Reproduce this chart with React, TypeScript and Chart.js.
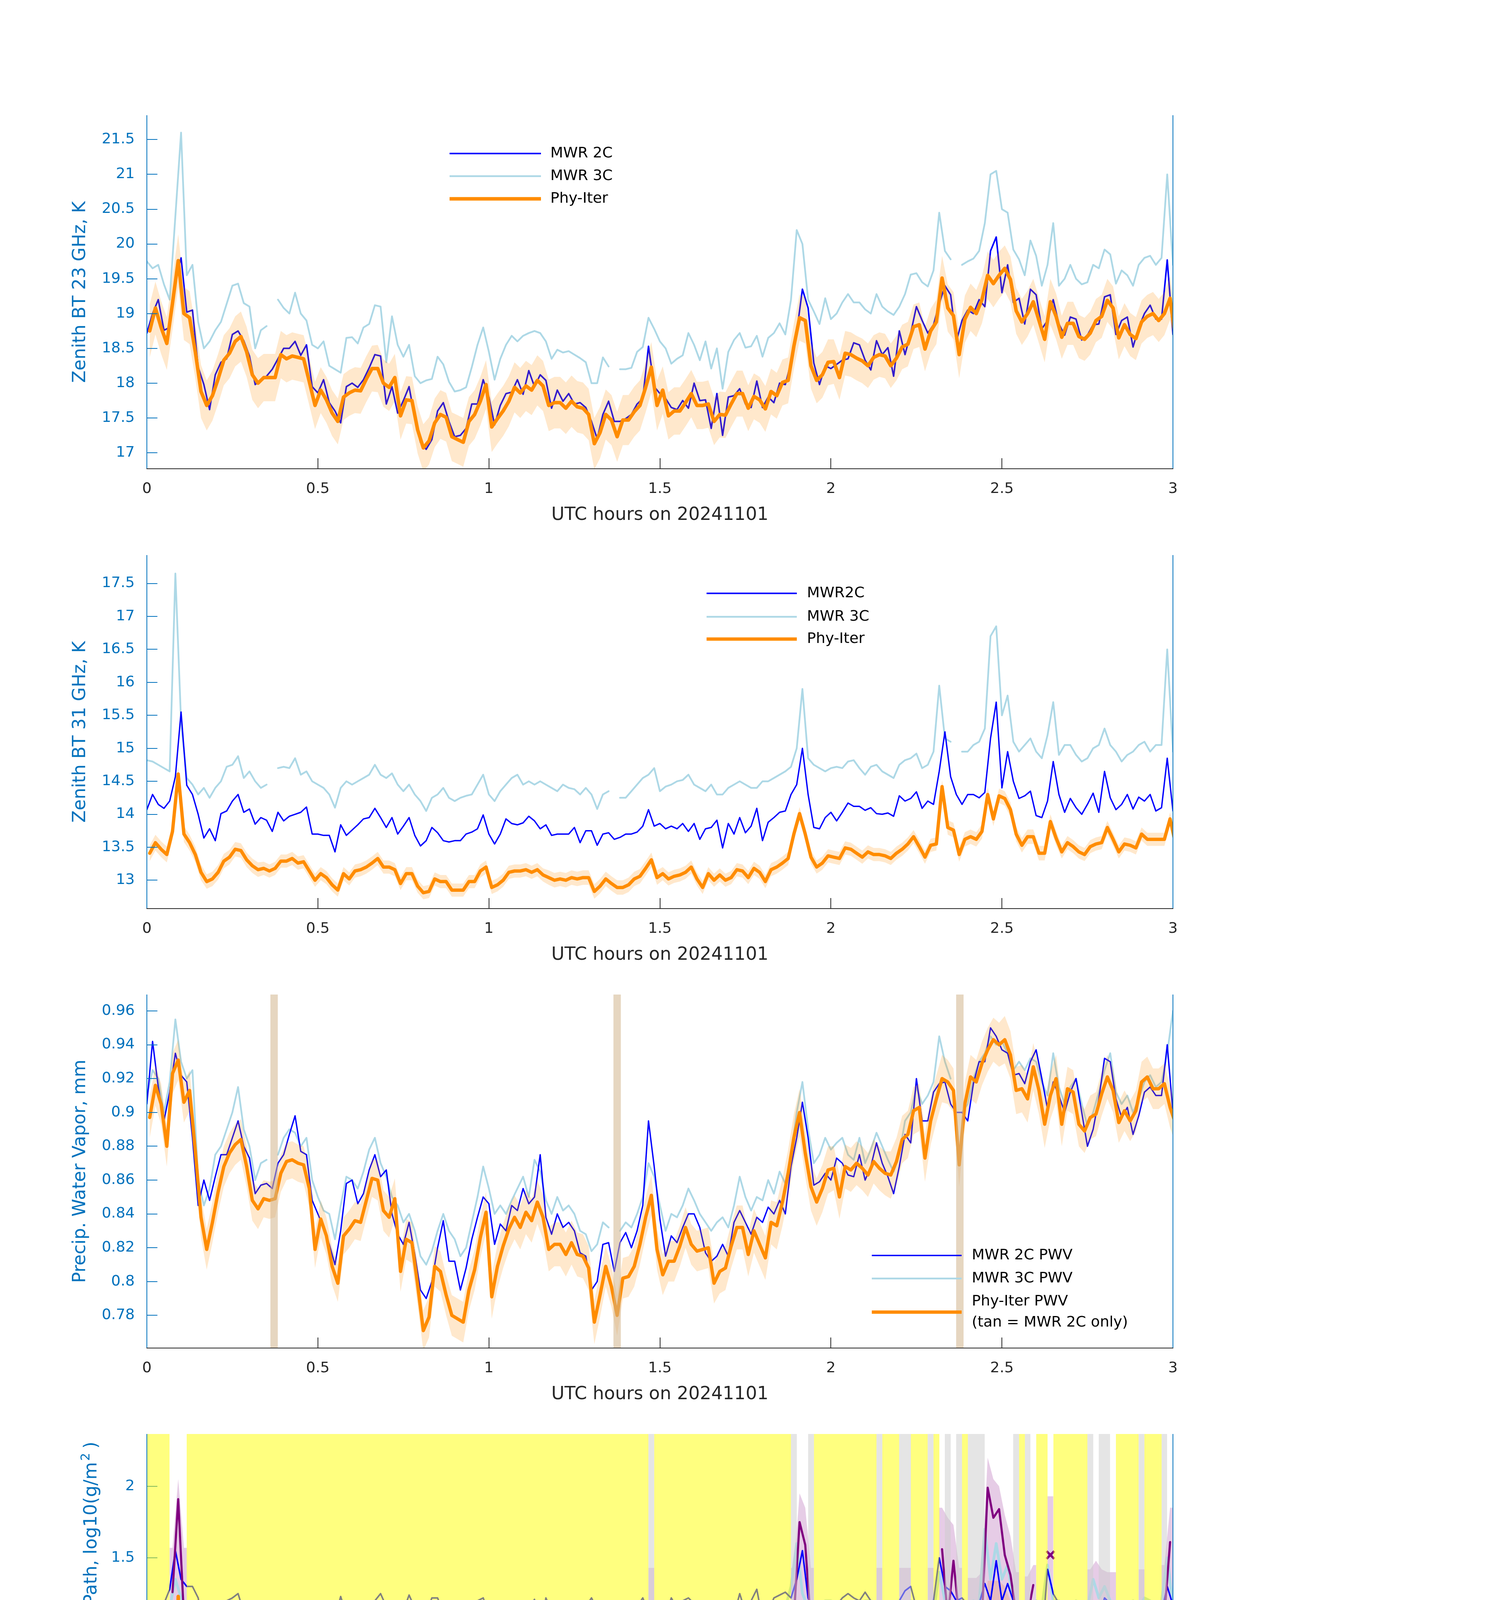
import { useEffect, useRef } from "react";
import { Chart, registerables } from "chart.js";

Chart.register(...registerables);

const AX_BLUE = "#0072bd";
const DARK = "#262626";
const ORANGE = "#ff8c00";
const BLUE = "#0000ff";
const LIGHT = "#add8e6";
const PURPLE = "#800080";
const BAND = "rgba(255,140,0,0.2)";
const ADI_BAND = "rgba(128,0,128,0.2)";
const FONT = '"DejaVu Sans", sans-serif';

const W = 3825;
const H = 1125;
const PAD = { left: 376, right: 822, top: 60, bottom: 160 };
const PANEL_TOPS = [295, 1421, 2546, 3671, 4796];

const xTicks = [0, 0.5, 1, 1.5, 2, 2.5, 3];

// ---- panel 1: zenith BT 23 GHz (one value per minute) ----
const bt23_2c = [
  18.72, 19.0, 19.2, 18.76, 18.8, 19.5, 19.8, 19.02, 19.05, 18.23,
  17.98, 17.62, 18.12, 18.3, 18.35, 18.7, 18.75, 18.61, 18.39, 17.98,
  18.05, 18.1, 18.2, 18.35, 18.5, 18.5, 18.6, 18.4, 18.55, 17.95,
  17.86, 18.05, 17.72, 17.6, 17.43, 17.95, 18.0, 17.94, 18.05, 18.22,
  18.41, 18.39, 17.7, 17.95, 17.57, 17.75, 17.95, 17.5, 17.15, 17.05,
  17.19, 17.6, 17.72, 17.45, 17.23, 17.25, 17.35, 17.7, 17.7, 18.05,
  17.8, 17.4, 17.68, 17.85, 17.87, 18.05, 17.84, 18.18, 17.95, 18.12,
  18.04, 17.64, 17.9, 17.74, 17.85, 17.7, 17.72, 17.65, 17.45, 17.2,
  17.55, 17.74, 17.45, 17.45, 17.49, 17.55, 17.7, 17.78, 18.53, 17.95,
  17.85, 17.78, 17.65, 17.62, 17.75, 17.64, 18.0, 17.75, 17.76, 17.35,
  17.85, 17.25, 17.8, 17.82, 17.92, 17.7, 17.65, 18.03, 17.65, 17.8,
  17.72, 18.0, 17.98, 18.3, 18.73, 19.35, 19.08, 18.29, 17.98, 18.25,
  18.21, 18.27, 18.33, 18.35, 18.58, 18.55, 18.33, 18.19, 18.61, 18.41,
  18.51, 18.1, 18.75, 18.41, 18.72, 19.1, 18.9, 18.72, 18.84, 19.14,
  19.4, 19.27, 18.6, 18.9, 19.05, 19.0, 19.2, 19.1, 19.9, 20.1,
  19.3, 19.7, 19.16, 19.22, 18.85, 19.35, 19.27, 18.78, 18.9, 19.2,
  18.85, 18.69, 18.95, 18.92, 18.62, 18.69, 18.84, 18.85, 19.24, 19.27,
  18.7, 18.9, 18.95, 18.52, 18.8, 19.0, 19.12, 18.92, 18.92, 19.77,
  18.7,
];
const bt23_3c = [
  19.75, 19.65, 19.7, 19.42, 19.2, 20.4, 21.6, 19.55, 19.7, 18.88,
  18.5, 18.6, 18.76, 18.88, 19.14, 19.4, 19.43, 19.15, 19.1, 18.5,
  18.76, 18.82, null, 19.2, 19.08, 19.0, 19.3, 19.0, 18.9, 18.55,
  18.5, 18.6, 18.25, 18.2, 18.15, 18.65, 18.66, 18.57, 18.8, 18.85,
  19.12, 19.1, 18.3, 18.96, 18.55, 18.38, 18.55, 18.1, 18.0, 18.04,
  18.06, 18.38, 18.27, 18.02, 17.88, 17.9, 17.94, 18.23, 18.55, 18.8,
  18.45, 18.05, 18.35, 18.55, 18.68, 18.6, 18.68, 18.72, 18.75, 18.72,
  18.6, 18.35, 18.48, 18.44, 18.46, 18.41, 18.36, 18.3, 18.0, 18.0,
  18.37, 18.24, null, 18.2, 18.2, 18.22, 18.45, 18.52, 18.94, 18.78,
  18.6, 18.5, 18.28, 18.35, 18.4, 18.72, 18.55, 18.33, 18.6, 18.21,
  18.5, 17.92, 18.45, 18.62, 18.72, 18.51, 18.53, 18.68, 18.38, 18.65,
  18.72, 18.86, 18.7, 19.2, 20.2, 20.0, 19.2, 19.03, 18.85, 19.22,
  18.92, 19.0, 19.16, 19.28, 19.16, 19.16, 19.06, 19.0, 19.28, 19.1,
  19.03, 18.98, 19.1, 19.28, 19.56, 19.58, 19.45, 19.39, 19.62, 20.45,
  19.9, 19.78, null, 19.7, 19.75, 19.79, 19.9, 20.3, 21.0, 21.05,
  20.5, 20.45, 19.92, 19.78, 19.55, 20.05, 19.83, 19.4, 19.7, 20.3,
  19.4, 19.5, 19.7, 19.5, 19.42, 19.45, 19.7, 19.65, 19.92, 19.85,
  19.43, 19.62, 19.55, 19.4, 19.7, 19.8, 19.83, 19.7, 19.8, 21.0,
  19.7,
];
const bt23_phy = [
  18.75, 19.08, 18.8, 18.57, 19.15, 19.76, 19.0, 18.94, 18.45, 17.88,
  17.68, 17.82, 18.06, 18.33, 18.43, 18.6, 18.67, 18.45, 18.12, 18.0,
  18.08, 18.08, 18.08, 18.41, 18.35, 18.39, 18.37, 18.35, 18.02, 17.68,
  17.9, 17.76, 17.57, 17.45, 17.8, 17.86, 17.9, 17.89, 18.06, 18.21,
  18.21, 18.0, 17.94, 18.08, 17.53, 17.76, 17.75, 17.33, 17.07, 17.17,
  17.43, 17.55, 17.51, 17.23, 17.19, 17.15, 17.45, 17.55, 17.74, 17.98,
  17.37, 17.49, 17.6, 17.74, 17.94, 17.86, 17.96, 17.9, 18.04, 17.96,
  17.68, 17.72, 17.72, 17.64, 17.74, 17.66, 17.64, 17.55, 17.13, 17.29,
  17.55, 17.47, 17.23, 17.47, 17.47, 17.59, 17.68, 17.94, 18.23, 17.68,
  17.9, 17.53, 17.6, 17.6, 17.72, 17.85, 17.68, 17.68, 17.7, 17.45,
  17.55, 17.54, 17.7, 17.85, 17.85, 17.64, 17.81, 17.76, 17.63, 17.88,
  17.82, 18.01, 18.04, 18.53, 18.94, 18.9, 18.25, 18.04, 18.12, 18.3,
  18.31, 18.08, 18.43, 18.41, 18.36, 18.32, 18.25, 18.37, 18.41, 18.39,
  18.25, 18.36, 18.52, 18.56, 18.81, 18.84, 18.49, 18.75, 18.88, 19.51,
  19.08, 18.97, 18.41, 18.92, 19.09, 19.0, 19.2, 19.55, 19.43, 19.55,
  19.65, 19.49, 19.04, 18.88, 19.0, 19.17, 18.9, 18.63, 19.17, 18.96,
  18.66, 18.86, 18.86, 18.67, 18.63, 18.72, 18.9, 18.96, 19.19, 19.08,
  18.65, 18.84, 18.7, 18.64, 18.88, 18.96, 19.0, 18.9, 19.0, 19.22,
  18.6,
];
// half-width of the Phy-Iter band, one value per 10 minutes
const bt23_unc = [0.38, 0.36, 0.34, 0.33, 0.34, 0.35, 0.36, 0.37, 0.36, 0.34, 0.33, 0.33, 0.32, 0.32, 0.34, 0.33, 0.31, 0.31, 0.31];

// ---- panel 2: zenith BT 31 GHz ----
const bt31_2c = [
  14.07, 14.3, 14.15, 14.09, 14.2, 14.57, 15.55, 14.44, 14.3, 14.0,
  13.64, 13.78, 13.6, 14.01, 14.05, 14.2, 14.3, 14.03, 14.08, 13.85,
  13.95, 13.91, 13.74, 14.03, 13.9, 13.97, 14.0, 14.03, 14.11, 13.7,
  13.7, 13.68, 13.68, 13.43, 13.84, 13.68, 13.76, 13.84, 13.93, 13.95,
  14.09, 13.95, 13.8, 13.95, 13.7, 13.82, 13.95, 13.68, 13.52, 13.6,
  13.8, 13.72, 13.6, 13.58, 13.6, 13.6, 13.7, 13.73, 13.78, 13.99,
  13.7, 13.55, 13.7, 13.93, 13.86, 13.84, 13.87, 13.97, 13.9, 13.78,
  13.84, 13.68, 13.7, 13.7, 13.7, 13.8, 13.57, 13.75, 13.75, 13.53,
  13.7, 13.72, 13.62, 13.65, 13.7, 13.7, 13.73, 13.82, 14.07, 13.82,
  13.86, 13.78, 13.82, 13.78, 13.86, 13.74, 13.86, 13.62, 13.78, 13.8,
  13.91, 13.49, 13.86, 13.7, 13.95, 13.72, 13.82, 14.09, 13.6, 13.88,
  13.95, 14.03, 14.05, 14.3, 14.45, 15.0, 14.3, 13.8, 13.78, 13.95,
  14.03, 13.9, 14.03, 14.17, 14.12, 14.12, 14.06, 14.1, 14.01, 14.0,
  14.02, 13.97, 14.28, 14.2, 14.24, 14.34, 14.09, 14.2, 14.15, 14.65,
  15.25, 14.57, 14.3, 14.15, 14.3, 14.3, 14.25, 14.33, 15.15, 15.7,
  14.4, 14.95, 14.5, 14.24, 14.28, 14.35, 13.98, 13.95, 14.2, 14.8,
  14.3, 14.03, 14.24, 14.1, 14.0, 14.15, 14.32, 14.03, 14.65, 14.25,
  14.07, 14.15, 14.3, 14.08, 14.26, 14.2, 14.3, 14.05, 14.1, 14.85,
  14.05,
];
const bt31_3c = [
  14.82, 14.8, 14.75, 14.7, 14.65, 17.65, 15.4, 14.55, 14.45, 14.3,
  14.4, 14.25, 14.4, 14.5, 14.72, 14.75, 14.88, 14.55, 14.65, 14.5,
  14.4, 14.45, null, 14.7, 14.72, 14.7, 14.85, 14.6, 14.65, 14.5,
  14.45, 14.4, 14.3, 14.1, 14.4, 14.5, 14.45, 14.5, 14.55, 14.6,
  14.75, 14.6, 14.55, 14.62, 14.45, 14.35, 14.45, 14.3, 14.2, 14.05,
  14.25, 14.3, 14.4, 14.25, 14.2, 14.25, 14.28, 14.3, 14.45, 14.6,
  14.3, 14.2, 14.35, 14.45, 14.55, 14.6, 14.45, 14.5, 14.45, 14.5,
  14.45, 14.4, 14.35, 14.45, 14.4, 14.38, 14.3, 14.4, 14.3, 14.08,
  14.3, 14.35, null, 14.25, 14.25, 14.35, 14.45, 14.55, 14.6, 14.7,
  14.35, 14.42, 14.45, 14.5, 14.52, 14.6, 14.45, 14.4, 14.35, 14.45,
  14.3, 14.3, 14.4, 14.45, 14.5, 14.45, 14.4, 14.4, 14.5, 14.5,
  14.55, 14.6, 14.65, 14.72, 15.0, 15.9, 14.85, 14.75, 14.7, 14.65,
  14.7, 14.72, 14.7, 14.8, 14.82, 14.7, 14.6, 14.72, 14.75, 14.65,
  14.6, 14.55, 14.75, 14.82, 14.85, 14.92, 14.7, 14.75, 14.95, 15.95,
  15.15, 15.1, null, 14.95, 14.95, 15.05, 15.1, 15.3, 16.7, 16.85,
  15.5, 15.8, 15.1, 14.95, 15.05, 15.15, 14.95, 14.85, 15.2, 15.7,
  14.9, 15.05, 15.05, 14.9, 14.8, 14.85, 15.0, 15.05, 15.3, 15.05,
  14.95, 14.8, 14.9, 14.95, 15.05, 15.1, 14.95, 15.05, 15.05, 16.5,
  14.95,
];
const bt31_phy = [
  13.41, 13.57, 13.47, 13.39, 13.74, 14.61, 13.7, 13.57, 13.39, 13.12,
  12.98, 13.02, 13.12, 13.29, 13.35, 13.47, 13.45, 13.31, 13.22, 13.16,
  13.18, 13.14, 13.18, 13.29, 13.29, 13.33, 13.26, 13.28, 13.14, 13.0,
  13.1, 13.04, 12.93, 12.85, 13.1, 13.02, 13.14, 13.16, 13.2, 13.26,
  13.33, 13.2, 13.2, 13.16, 12.95, 13.1, 13.1, 12.91, 12.81, 12.83,
  13.02, 12.98, 12.98, 12.85, 12.85, 12.85, 12.98, 12.98, 13.14, 13.2,
  12.89, 12.93, 13.0, 13.12, 13.14, 13.14, 13.16, 13.12, 13.16, 13.08,
  13.04, 13.0, 13.02, 13.0, 13.04, 13.02, 13.04, 13.04, 12.83, 12.91,
  13.02, 12.95, 12.89, 12.89, 12.93, 13.02, 13.06, 13.18, 13.31, 13.04,
  13.1, 13.02, 13.06, 13.08, 13.12, 13.2, 13.02, 12.89, 13.1, 13.0,
  13.08, 13.0, 13.04, 13.16, 13.14, 13.04, 13.18, 13.12, 12.98, 13.16,
  13.2, 13.26, 13.33, 13.7, 14.01, 13.7, 13.35, 13.2, 13.26, 13.37,
  13.35, 13.33, 13.49, 13.47, 13.41, 13.35, 13.43, 13.39, 13.39, 13.37,
  13.33, 13.41, 13.47, 13.55, 13.66, 13.51, 13.35, 13.53, 13.55, 14.42,
  13.8, 13.76, 13.39, 13.62, 13.66, 13.62, 13.74, 14.3, 13.93, 14.28,
  14.24, 14.07, 13.7, 13.53, 13.66, 13.66, 13.41, 13.41, 13.89, 13.64,
  13.43, 13.57, 13.51, 13.43, 13.39, 13.51, 13.55, 13.57, 13.8, 13.62,
  13.43, 13.55, 13.53, 13.49, 13.7, 13.62, 13.62, 13.62, 13.62, 13.93,
  13.53,
];
const bt31_unc = [0.12, 0.11, 0.1, 0.1, 0.1, 0.1, 0.1, 0.11, 0.11, 0.1, 0.1, 0.1, 0.1, 0.1, 0.11, 0.11, 0.1, 0.1, 0.1];

// ---- panel 3: precipitable water vapour (mm) ----
const pwv_2c = [
  0.905, 0.942, 0.915, 0.895, 0.912, 0.935, 0.922, 0.918, 0.885, 0.845,
  0.86, 0.848, 0.862, 0.875, 0.875, 0.885, 0.895, 0.88, 0.873, 0.852,
  0.857, 0.858, 0.855, 0.87, 0.875, 0.887, 0.898, 0.877, 0.875, 0.848,
  0.84, 0.832, 0.822, 0.81, 0.83, 0.858, 0.86, 0.846, 0.852, 0.866,
  0.875, 0.862, 0.866, 0.84, 0.828, 0.822, 0.835, 0.816, 0.795, 0.79,
  0.8, 0.82, 0.836, 0.812, 0.812, 0.795, 0.808, 0.825, 0.838, 0.85,
  0.846, 0.822, 0.834, 0.83, 0.845, 0.842, 0.855, 0.846, 0.85, 0.875,
  0.838, 0.828, 0.84, 0.832, 0.835, 0.83, 0.817, 0.815, 0.795, 0.8,
  0.822, 0.823, 0.806, 0.823, 0.829, 0.82, 0.83, 0.845, 0.895, 0.868,
  0.837, 0.815, 0.827, 0.823, 0.832, 0.84, 0.84, 0.832, 0.817, 0.812,
  0.815, 0.822, 0.815, 0.835, 0.842, 0.835, 0.828, 0.838, 0.835, 0.844,
  0.84, 0.848, 0.84, 0.868, 0.885, 0.906, 0.885, 0.857, 0.859, 0.864,
  0.86, 0.873, 0.87, 0.863, 0.862, 0.875, 0.86, 0.868, 0.882, 0.87,
  0.862, 0.852, 0.868, 0.887, 0.882, 0.92, 0.895, 0.895, 0.912, 0.917,
  0.918, 0.905, 0.9, 0.9, 0.895, 0.917, 0.93, 0.93, 0.95, 0.945,
  0.937, 0.935, 0.922, 0.923, 0.917, 0.93, 0.937, 0.92, 0.902, 0.918,
  0.91, 0.9, 0.912, 0.92, 0.9, 0.88, 0.89, 0.908, 0.932, 0.93,
  0.908, 0.897, 0.903, 0.887, 0.898, 0.912, 0.915, 0.91, 0.91, 0.94,
  0.9,
];
const pwv_3c = [
  0.91, 0.925, 0.92, 0.9, 0.918, 0.955, 0.93, 0.92, 0.925, 0.86,
  0.845, 0.855, 0.875, 0.88, 0.89, 0.9, 0.915, 0.89, 0.88, 0.86,
  0.87, 0.872, null, 0.875, 0.885, 0.89, 0.888, 0.88, 0.885, 0.86,
  0.85, 0.842, 0.84, 0.825, 0.845, 0.862, 0.86, 0.855, 0.865, 0.878,
  0.885, 0.87, 0.862, 0.85, 0.845, 0.835, 0.84, 0.83, 0.815, 0.81,
  0.818, 0.83, 0.84, 0.83, 0.825, 0.815, 0.82, 0.835, 0.85, 0.868,
  0.855, 0.84, 0.845, 0.84, 0.848, 0.855, 0.862, 0.85, 0.872, 0.865,
  0.848, 0.84, 0.85, 0.842, 0.845, 0.84, 0.83, 0.828, 0.818, 0.822,
  0.835, 0.832, null, 0.83, 0.835, 0.832, 0.84, 0.85, 0.87, 0.862,
  0.845, 0.83, 0.84, 0.838, 0.845, 0.855, 0.848, 0.84, 0.835, 0.83,
  0.835, 0.838, 0.832, 0.845, 0.862, 0.85, 0.842, 0.85, 0.848, 0.86,
  0.852, 0.865, 0.858, 0.875, 0.9, 0.918, 0.89, 0.87, 0.875, 0.885,
  0.878, 0.882, 0.885, 0.875, 0.872, 0.885, 0.87, 0.878, 0.888, 0.88,
  0.872, 0.865, 0.875, 0.895, 0.9, 0.915, 0.905, 0.91, 0.918, 0.945,
  0.93, 0.92, null, 0.9, 0.905, 0.92, 0.93, 0.935, 0.945, 0.94,
  0.942, 0.935, 0.925, 0.93, 0.925, 0.932, 0.93, 0.918, 0.91, 0.935,
  0.915, 0.905, 0.915, 0.92, 0.905, 0.892, 0.9, 0.912, 0.925, 0.935,
  0.912, 0.905, 0.91, 0.9, 0.908, 0.918, 0.922, 0.915, 0.918, 0.935,
  0.96,
];
const pwv_phy = [
  0.897, 0.916, 0.905, 0.88, 0.923, 0.931, 0.906, 0.913, 0.877, 0.838,
  0.819, 0.835, 0.853, 0.868, 0.876, 0.881, 0.884, 0.868, 0.848, 0.843,
  0.849, 0.848, 0.849, 0.864, 0.871, 0.872, 0.87, 0.869, 0.855, 0.819,
  0.837, 0.827, 0.809, 0.799, 0.827, 0.831, 0.836, 0.835, 0.848, 0.861,
  0.86, 0.842, 0.838, 0.849, 0.806, 0.825, 0.823, 0.798, 0.771, 0.779,
  0.809, 0.806, 0.792, 0.78, 0.778, 0.776, 0.795, 0.807, 0.826, 0.841,
  0.791, 0.809, 0.821, 0.831, 0.838, 0.832, 0.841, 0.836, 0.847, 0.838,
  0.819, 0.822, 0.822, 0.816, 0.823, 0.816, 0.815, 0.808, 0.776, 0.792,
  0.809, 0.797, 0.78, 0.802, 0.803, 0.809, 0.822, 0.838, 0.851, 0.819,
  0.804, 0.812, 0.812, 0.821, 0.832, 0.822, 0.818, 0.819, 0.82, 0.799,
  0.806, 0.808, 0.821, 0.832, 0.832, 0.816, 0.83, 0.822, 0.814, 0.835,
  0.833, 0.847, 0.864, 0.885, 0.9, 0.876, 0.856, 0.847, 0.855, 0.866,
  0.867, 0.85, 0.868, 0.866, 0.87, 0.867, 0.863, 0.871, 0.867, 0.864,
  0.863, 0.871, 0.884, 0.887, 0.901, 0.903, 0.873, 0.895, 0.908, 0.92,
  0.918, 0.913, 0.869, 0.905, 0.921, 0.918, 0.929, 0.937, 0.943, 0.94,
  0.943, 0.934, 0.913, 0.914, 0.908, 0.927, 0.913, 0.893, 0.91, 0.92,
  0.893, 0.914, 0.912, 0.893, 0.889, 0.897, 0.899, 0.911, 0.921, 0.913,
  0.894, 0.901, 0.895, 0.901, 0.918, 0.921, 0.914, 0.914, 0.917, 0.903,
  0.893,
];
const pwv_unc = [0.012, 0.012, 0.011, 0.011, 0.012, 0.012, 0.013, 0.013, 0.012, 0.012, 0.013, 0.014, 0.013, 0.014, 0.013, 0.014, 0.013, 0.012, 0.012];
// hours where only MWR 2C was available
const tanHours = [0.372, 1.375, 2.377];

// ---- panel 4: log10 liquid water path ----
const lwp_2c = [
  1.2, 1.17, 1.16, 1.18, 1.28, 1.55, 1.35, 1.3, 1.3, 1.22,
  1.0, 1.17, 1.08, 1.16, 1.2, 1.22, 1.25, 1.12, 1.18, 1.2,
  1.2, 1.15, 1.1, 1.2, 1.12, 1.15, 1.13, 1.2, 1.2, 1.08,
  1.05, 1.15, 1.13, 1.08, 1.23, 1.1, 1.02, 1.15, 1.2, 1.15,
  1.2, 1.25, 1.16, 1.2, 1.12, 1.13, 1.24, 1.15, 1.12, 1.12,
  1.22, 1.22, 1.12, 1.12, 1.12, 1.17, 1.18, 1.2, 1.2, 1.22,
  1.11, 1.1, 1.02, 1.19, 1.17, 1.16, 1.17, 1.15, 1.21, 0.98,
  1.22, 1.13, 1.15, 1.1, 1.12, 1.15, 1.02, 1.16, 1.22, 1.14,
  1.17, 1.15, 1.11, 1.12, 1.12, 1.12, 1.16, 1.22, 1.12, 1.1,
  1.18, 1.1, 1.22, 1.15, 1.2, 1.22, 1.18, 1.03, 0.92, 1.18,
  1.19, 1.06, 1.15, 1.1, 1.25, 1.12, 1.2, 1.28, 1.07, 1.12,
  1.22, 1.24, 1.26, 1.22, 1.35, 1.55, 1.22, 1.12, 1.12, 1.2,
  1.19, 1.17, 1.22, 1.25, 1.22, 1.2, 1.26, 1.2, 1.12, 1.08,
  1.18, 1.2, 1.2, 1.27, 1.3, 1.15, 1.15, 1.15, 1.2, 1.5,
  1.3, 1.27, 1.2, 1.22, 1.17, 1.15, 1.18, 1.32, 1.2, 1.48,
  1.2, 1.32, 1.2, 1.1, 1.15, 1.08, 0.95, 0.9, 1.42, 1.25,
  1.18, 1.1, 1.18, 1.14, 1.12, 1.18, 1.13, 1.08, 1.22, 1.18,
  1.12, 1.13, 1.2, 1.13, 1.12, 1.2, 1.12, 1.16, 1.12, 1.3,
  1.17,
];
const lwp_3c = [
  1.17, 1.16, 1.17, 1.14, 1.15, 1.35, 1.22, 1.15, 1.15, 1.1,
  1.05, 1.02, 1.0, 1.08, 1.12, 1.2, 1.18, 1.15, 1.1, 1.12,
  1.1, 1.08, null, 1.15, 1.12, 1.14, 1.17, 1.12, 1.1, 1.15,
  1.05, 1.1, 1.08, 0.93, 1.05, 1.12, 1.1, 1.1, 1.15, 1.16,
  1.18, 1.14, 1.12, 1.14, 1.15, 1.1, 1.15, 1.05, 0.97, 0.95,
  1.05, 1.07, 1.06, 1.05, 1.08, 1.1, 1.05, 1.08, 1.12, 1.15,
  1.05, 1.1, 1.12, 1.08, 1.12, 1.1, 1.1, 1.12, 1.15, 1.1,
  1.05, 1.08, 1.1, 1.05, 1.08, 1.12, 1.06, 1.05, 0.98, 1.05,
  1.1, 1.15, null, 1.05, 1.08, 1.12, 1.14, 1.15, 1.08, 1.08,
  1.08, 1.09, 1.1, 1.1, 1.1, 1.11, 1.12, 1.1, 1.12, 1.08,
  1.08, 1.1, 1.12, 1.12, 1.1, 1.1, 1.12, 1.1, 1.1, 1.12,
  1.12, 1.15, 1.15, 1.3, 1.6, 1.25, 1.15, 1.18, 1.18, 1.2,
  1.2, 1.18, 1.18, 1.16, 1.15, 1.18, 1.2, 1.2, 1.18, 1.15,
  1.12, 1.14, 1.15, 1.18, 1.2, 1.18, 1.15, 1.12, 1.1, 1.4,
  1.2, 1.2, null, 1.1, 1.15, 1.2, 1.18, 1.7, 1.35, 1.6,
  1.35, 1.45, 1.2, 1.18, 1.15, 1.18, 1.2, 1.15, 1.45, 1.2,
  1.2, 1.17, 1.15, 1.2, 1.18, 1.15, 1.35, 1.22, 1.3, 1.2,
  1.15, 1.17, 1.18, 1.2, 1.15, 1.22, 1.2, 1.17, 1.2, 1.5,
  1.17,
];
// [minute index, value, band low, band high] where a retrieval exists
const lwp_phy_pts = [
  [4, -1.4, -1, 0.8], [5, 1.23, -1, 0.8], [6, -1.4, -1, 0.8],
  [113, 0.35, -1, 0.71], [114, 0.96, -1, 0.71], [115, 0.29, -1, 0.71], [116, -0.5, -1, 0.71],
  [139, 1.14, -1, 1.1], [140, 0.03, -1, 1.1], [141, 0.1, -1, 1.1], [142, -0.5, -1, 1.0],
  [144, -1, -1, 0.69], [145, -1, -1, 0.69], [146, -0.5, -1, 0.69], [147, 1.04, -1, 1.34], [148, 0.44, -1, 1.34],
  [149, 0.9, -1, 1.34], [150, 1.09, -1, 1.3], [151, 1.08, -1, 1.2], [152, 0.58, -1, 0.9],
  [154, 0.46, -1, 0.55], [155, -0.07, -1, 0.55],
  [158, 0.96, 0.36, 1.15],
  [165, 0.47, -1, 1.01], [166, -0.09, -1, 1.01], [167, 0.2, -1, 1.01], [168, 0.84, -1, 1.01], [169, 0.155, -1, 1.01],
  [174, 0.69, -1, 0.5],
  [178, 0.22, -1, 1.0], [179, 0.95, -1, 1.0],
];
const lwp_adi_pts = [
  [4, 1.26, 0.5, 1.57], [5, 1.91, 0.5, 2.05], [6, 1.09, 0.5, 1.57],
  [88, 1.08, 0.48, 1.43],
  [113, 1.08, 0.48, 1.43], [114, 1.75, 0.48, 1.95], [115, 1.59, 0.48, 1.85], [116, 1.03, 0.48, 1.43],
  [128, 1.08, 0.48, 1.43],
  [132, 1.08, 0.48, 1.43], [133, 1.08, 0.48, 1.43],
  [137, 1.08, 0.48, 1.43],
  [139, 1.56, 0.48, 1.85], [140, 1.08, 0.48, 1.78], [141, 1.48, 0.48, 1.73], [142, 1.08, 0.48, 1.43],
  [144, 1.085, 0.69, 1.36], [145, 1.085, 0.69, 1.36], [146, 1.09, 0.69, 1.4], [147, 1.99, 0.7, 2.2], [148, 1.78, 0.7, 2.05],
  [149, 1.84, 0.7, 2.0], [150, 1.52, 0.7, 1.8], [151, 1.38, 0.7, 1.65], [152, 1.11, 0.6, 1.4],
  [154, 1.1, 0.5, 1.37], [155, 1.31, 0.5, 1.45],
  [158, 1.52, 1.15, 1.93],
  [165, 1.1, 0.5, 1.42], [166, 1.16, 0.5, 1.48], [167, 1.1, 0.5, 1.42], [168, 1.1, 0.5, 1.4], [169, 1.1, 0.5, 1.4],
  [174, 1.11, 0.5, 1.42],
  [178, 1.1, 0.5, 1.45], [179, 1.61, 0.5, 1.85],
];

// ---- panel 5: Phy-Iter DQ flag, one per minute ----
const dqFlag = [
  5, 5, 5, 5, 0, 0, 0, 5, 5, 5, 5, 5, 5, 5, 5, 5, 5, 5, 5, 5,
  5, 5, 5, 5, 5, 5, 5, 5, 5, 5, 5, 5, 5, 5, 5, 5, 5, 5, 5, 5,
  5, 5, 5, 5, 5, 5, 5, 5, 5, 5, 5, 5, 5, 5, 5, 5, 5, 5, 5, 5,
  5, 5, 5, 5, 5, 5, 5, 5, 5, 5, 5, 5, 5, 5, 5, 5, 5, 5, 5, 5,
  5, 5, 5, 5, 5, 5, 5, 5, 4, 5, 5, 5, 5, 5, 5, 5, 5, 5, 5, 5,
  5, 5, 5, 5, 5, 5, 5, 5, 5, 5, 5, 5, 5, 4, 0, 0, 4, 5, 5, 5,
  5, 5, 5, 5, 5, 5, 5, 5, 4, 5, 5, 5, 4, 4, 5, 5, 5, 4, 5, 0,
  4, 0, 4, 5, 4, 4, 4, 0, 0, 0, 0, 0, 4, 5, 3, 0, 5, 5, 0, 5,
  5, 5, 5, 5, 5, 3, 0, 4, 4, 0, 5, 5, 5, 5, 4, 5, 5, 5, 4, 0,
];

const atMinute = (vals: (number | null)[], offset: number) =>
  vals.map((v, k) => ({ x: (k + offset) / 60, y: v }));

// spread sparse [k, ...columns] rows over the minute grid
const sparseColumn = (rows: number[][], col: number) => {
  const out: (number | null)[] = dqFlag.map(() => null);
  for (const r of rows) out[r[0]] = r[col];
  return out;
};

type LegendItem = { label: string | string[]; color: string; width: number };
type Deco = {
  yTicks: number[];
  yLabel: string | string[];
  yLabelX: number;
  legend: LegendItem[];
  legendX: number[];
  legendY: number[];
  under?: (chart: any) => void;
  over?: (chart: any) => void;
};

function drawTicks(chart: any, yTicks: number[]) {
  const { ctx, chartArea: a, scales } = chart;
  ctx.save();
  ctx.lineWidth = 2;
  ctx.strokeStyle = AX_BLUE;
  ctx.beginPath();
  for (const v of yTicks) {
    const py = Math.round(scales.y.getPixelForValue(v));
    ctx.moveTo(a.left, py);
    ctx.lineTo(a.left + 27, py);
  }
  ctx.stroke();
  ctx.strokeStyle = DARK;
  ctx.beginPath();
  for (const v of xTicks) {
    const px = Math.round(scales.x.getPixelForValue(v));
    ctx.moveTo(px, a.bottom);
    ctx.lineTo(px, a.bottom - 27);
  }
  ctx.stroke();
  ctx.restore();
}

function drawFrame(chart: any) {
  const { ctx, chartArea: a } = chart;
  ctx.save();
  ctx.lineWidth = 2;
  ctx.strokeStyle = AX_BLUE;
  ctx.beginPath();
  ctx.moveTo(a.left, a.top);
  ctx.lineTo(a.left, a.bottom);
  ctx.moveTo(a.right, a.top);
  ctx.lineTo(a.right, a.bottom);
  ctx.stroke();
  ctx.strokeStyle = DARK;
  ctx.beginPath();
  ctx.moveTo(a.left - 1, a.bottom);
  ctx.lineTo(a.right + 1, a.bottom);
  ctx.stroke();
  ctx.restore();
}

function drawText(chart: any, d: Deco) {
  const { ctx, chartArea: a, scales } = chart;
  ctx.save();
  ctx.font = `38px ${FONT}`;
  ctx.fillStyle = AX_BLUE;
  ctx.textAlign = "right";
  ctx.textBaseline = "middle";
  for (const v of d.yTicks) ctx.fillText(String(v), a.left - 31, scales.y.getPixelForValue(v));
  ctx.fillStyle = DARK;
  ctx.textAlign = "center";
  ctx.textBaseline = "alphabetic";
  for (const v of xTicks) ctx.fillText(String(v), scales.x.getPixelForValue(v), a.bottom + 62);
  ctx.font = `46px ${FONT}`;
  ctx.fillText("UTC hours on 20241101", (a.left + a.right) / 2, a.bottom + 131);

  ctx.fillStyle = AX_BLUE;
  ctx.translate(d.yLabelX, (a.top + a.bottom) / 2);
  ctx.rotate(-Math.PI / 2);
  if (Array.isArray(d.yLabel)) {
    const [main, sup, tail] = d.yLabel;
    ctx.font = `46px ${FONT}`;
    const w1 = ctx.measureText(main).width;
    const w3 = ctx.measureText(tail).width;
    ctx.font = `32px ${FONT}`;
    const w2 = ctx.measureText(sup).width;
    const total = w1 + w2 + w3 + 14;
    let x0 = -total / 2;
    ctx.textAlign = "left";
    ctx.font = `46px ${FONT}`;
    ctx.fillText(main, x0, 0);
    x0 += w1 + 3;
    ctx.font = `32px ${FONT}`;
    ctx.fillText(sup, x0, -18);
    x0 += w2 + 11;
    ctx.font = `46px ${FONT}`;
    ctx.fillText(tail, x0, 0);
  } else {
    ctx.fillText(d.yLabel, 0, 0);
  }
  ctx.restore();
}

function drawLegend(chart: any, d: Deco) {
  const { ctx } = chart;
  ctx.save();
  ctx.font = `38px ${FONT}`;
  ctx.fillStyle = "#000";
  ctx.textAlign = "left";
  ctx.textBaseline = "middle";
  d.legend.forEach((it, i) => {
    const y = d.legendY[i];
    ctx.strokeStyle = it.color;
    ctx.lineWidth = it.width;
    ctx.beginPath();
    ctx.moveTo(d.legendX[0], y);
    ctx.lineTo(d.legendX[1], y);
    ctx.stroke();
    const lines = Array.isArray(it.label) ? it.label : [it.label];
    lines.forEach((t, j) => ctx.fillText(t, d.legendX[2], y + (j - (lines.length - 1) / 2) * 54));
  });
  ctx.restore();
}

function decoPlugin(d: Deco) {
  return {
    id: "deco",
    beforeDatasetsDraw(chart: any) {
      if (d.under) d.under(chart);
    },
    afterDatasetsDraw(chart: any) {
      drawTicks(chart, d.yTicks);
      if (d.over) d.over(chart);
    },
    afterDraw(chart: any) {
      drawFrame(chart);
      drawText(chart, d);
      drawLegend(chart, d);
    },
  };
}

// band between two sparse bounds; each run is widened by half a minute at both ends
function drawSparseBand(chart: any, lo: (number | null)[], hi: (number | null)[], color: string) {
  const { ctx, chartArea: a, scales } = chart;
  const px = (m: number) => scales.x.getPixelForValue(m / 60);
  const py = (v: number) => scales.y.getPixelForValue(v);
  ctx.save();
  ctx.beginPath();
  ctx.rect(a.left, a.top, a.right - a.left, a.bottom - a.top);
  ctx.clip();
  ctx.fillStyle = color;
  let k = 0;
  while (k < hi.length) {
    if (hi[k] == null) {
      k++;
      continue;
    }
    let e = k;
    while (e + 1 < hi.length && hi[e + 1] != null) e++;
    ctx.beginPath();
    ctx.moveTo(px(k), py(hi[k] as number));
    for (let i = k; i <= e; i++) ctx.lineTo(px(i + 0.5), py(hi[i] as number));
    ctx.lineTo(px(e + 1), py(hi[e] as number));
    ctx.lineTo(px(e + 1), py(lo[e] as number));
    for (let i = e; i >= k; i--) ctx.lineTo(px(i + 0.5), py(lo[i] as number));
    ctx.lineTo(px(k), py(lo[k] as number));
    ctx.closePath();
    ctx.fill();
    k = e + 1;
  }
  ctx.restore();
}

const shadeOf = (f: number) =>
  f === 5 ? "rgba(255,255,0,0.5)" : f === 3 || f === 4 ? "rgba(204,204,204,0.5)" : null;

function drawFlagShade(chart: any) {
  const { ctx, chartArea: a, scales } = chart;
  ctx.save();
  let k = 0;
  while (k < dqFlag.length) {
    const c = shadeOf(dqFlag[k]);
    let e = k;
    while (e + 1 < dqFlag.length && shadeOf(dqFlag[e + 1]) === c) e++;
    if (c) {
      const x0 = Math.round(scales.x.getPixelForValue(k / 60));
      const x1 = Math.round(scales.x.getPixelForValue((e + 1) / 60));
      ctx.fillStyle = c;
      ctx.fillRect(x0, a.top, x1 - x0, a.bottom - a.top);
    }
    k = e + 1;
  }
  ctx.restore();
}

function drawTanBars(chart: any) {
  const { ctx, chartArea: a, scales } = chart;
  ctx.save();
  ctx.fillStyle = "rgba(210,180,140,0.55)";
  for (const h of tanHours) {
    const x0 = scales.x.getPixelForValue(h - 0.65 / 60);
    const x1 = scales.x.getPixelForValue(h + 0.65 / 60);
    ctx.fillRect(x0, a.top, x1 - x0, a.bottom - a.top);
  }
  ctx.restore();
}

function baseOptions(ymin: number, ymax: number) {
  return {
    animation: false,
    responsive: false,
    devicePixelRatio: 1,
    events: [],
    layout: { padding: PAD },
    plugins: { legend: { display: false }, tooltip: { enabled: false }, title: { display: false } },
    scales: {
      x: { type: "linear", min: 0, max: 3, display: false },
      y: { type: "linear", min: ymin, max: ymax, display: false },
    },
    elements: { point: { radius: 0 }, line: { tension: 0, borderJoinStyle: "round", borderCapStyle: "round" } },
  };
}

function linePanel(
  c3: (number | null)[],
  c2: (number | null)[],
  phy: number[],
  unc: number[],
  ymin: number,
  ymax: number,
  deco: Deco,
  w: number[],
) {
  const hi = phy.map((v, k) => v + unc[Math.floor(k / 10)]);
  const lo = phy.map((v, k) => v - unc[Math.floor(k / 10)]);
  return {
    type: "line",
    data: {
      datasets: [
        { data: atMinute(phy, 0.5), borderColor: ORANGE, borderWidth: w[2], pointRadius: 0, order: 0 },
        { data: atMinute(hi, 0.5), borderColor: "rgba(0,0,0,0)", borderWidth: 1, pointRadius: 0, fill: 2, backgroundColor: BAND, order: 1 },
        { data: atMinute(lo, 0.5), borderColor: "rgba(0,0,0,0)", borderWidth: 1, pointRadius: 0, fill: false, order: 2 },
        { data: atMinute(c2, 0), borderColor: BLUE, borderWidth: w[1], pointRadius: 0, order: 3 },
        { data: atMinute(c3, 0), borderColor: LIGHT, borderWidth: w[0], pointRadius: 0, order: 4 },
      ],
    },
    options: baseOptions(ymin, ymax),
    plugins: [decoPlugin(deco)],
  };
}

const isolatedRadius = (c: any) => {
  const d = c.dataset.data;
  const i = c.dataIndex;
  const cur = d[i] ? d[i].y : null;
  const prev = d[i - 1] ? d[i - 1].y : null;
  const next = d[i + 1] ? d[i + 1].y : null;
  return cur != null && prev == null && next == null ? 14 : 0;
};

function buildConfigs() {
  const phyV = sparseColumn(lwp_phy_pts, 1);
  const phyLo = sparseColumn(lwp_phy_pts, 2);
  const phyHi = sparseColumn(lwp_phy_pts, 3);
  const adiV = sparseColumn(lwp_adi_pts, 1);
  const adiLo = sparseColumn(lwp_adi_pts, 2);
  const adiHi = sparseColumn(lwp_adi_pts, 3);
  return [
    linePanel(bt23_3c, bt23_2c, bt23_phy, bt23_unc, 16.77, 21.85, {
      yTicks: [17, 17.5, 18, 18.5, 19, 19.5, 20, 20.5, 21, 21.5],
      yLabel: "Zenith BT 23 GHz, K",
      yLabelX: 218,
      legend: [
        { label: "MWR 2C", color: BLUE, width: 4 },
        { label: "MWR 3C", color: LIGHT, width: 4.5 },
        { label: "Phy-Iter", color: ORANGE, width: 9 },
      ],
      legendX: [1151, 1385, 1409],
      legendY: [158, 216, 274],
    }, [4.5, 4, 9]),
    linePanel(bt31_3c, bt31_2c, bt31_phy, bt31_unc, 12.57, 17.93, {
      yTicks: [13, 13.5, 14, 14.5, 15, 15.5, 16, 16.5, 17, 17.5],
      yLabel: "Zenith BT 31 GHz, K",
      yLabelX: 218,
      legend: [
        { label: "MWR2C", color: BLUE, width: 4 },
        { label: "MWR 3C", color: LIGHT, width: 4.5 },
        { label: "Phy-Iter", color: ORANGE, width: 8.5 },
      ],
      legendX: [1809, 2040, 2066],
      legendY: [158, 218, 275],
    }, [4.5, 3.5, 8.5]),
    linePanel(pwv_3c, pwv_2c, pwv_phy, pwv_unc, 0.7607, 0.9697, {
      yTicks: [0.78, 0.8, 0.82, 0.84, 0.86, 0.88, 0.9, 0.92, 0.94, 0.96],
      yLabel: "Precip. Water Vapor, mm",
      yLabelX: 218,
      legend: [
        { label: "MWR 2C PWV", color: BLUE, width: 3.5 },
        { label: "MWR 3C PWV", color: LIGHT, width: 4.5 },
        { label: ["Phy-Iter PWV", "(tan = MWR 2C only)"], color: ORANGE, width: 8.5 },
      ],
      legendX: [2232, 2462, 2488],
      legendY: [728, 787, 873],
      over: drawTanBars,
    }, [4.5, 3.5, 8.5]),
    {
      type: "line",
      data: {
        datasets: [
          {
            data: atMinute(adiV, 0.5), borderColor: PURPLE, borderWidth: 5.5, order: 0,
            pointStyle: "crossRot", pointRadius: isolatedRadius, pointBorderWidth: 6, pointBorderColor: PURPLE,
          },
          {
            data: atMinute(phyV, 0.5), borderColor: ORANGE, borderWidth: 9, order: 1,
            pointStyle: "crossRot", pointRadius: isolatedRadius, pointBorderWidth: 6, pointBorderColor: ORANGE,
          },
          { data: atMinute(lwp_2c, 0), borderColor: BLUE, borderWidth: 4, pointRadius: 0, order: 2 },
          { data: atMinute(lwp_3c, 0), borderColor: LIGHT, borderWidth: 7, pointRadius: 0, order: 3 },
        ],
      },
      options: baseOptions(-0.104, 2.365),
      plugins: [decoPlugin({
        yTicks: [0, 0.5, 1, 1.5, 2],
        yLabel: ["log10 Liquid Water Path, log10(g/m", "2", ")"],
        yLabelX: 247,
        legend: [
          { label: "MWR 2C LWP", color: BLUE, width: 4 },
          { label: "MWR 3C LWP", color: LIGHT, width: 4.5 },
          { label: "Phy-Iter LWP", color: ORANGE, width: 9 },
          { label: "Adiabatic LWP", color: PURPLE, width: 5.5 },
        ],
        legendX: [548, 782, 807],
        legendY: [727, 785, 842, 901],
        under: (chart: any) => {
          drawSparseBand(chart, phyLo, phyHi, BAND);
          drawSparseBand(chart, adiLo, adiHi, ADI_BAND);
        },
        over: drawFlagShade,
      })],
    },
    {
      type: "line",
      data: {
        datasets: [
          {
            data: atMinute(dqFlag, 0.5), showLine: false, pointRadius: 4.5, pointStyle: "circle",
            pointBackgroundColor: ORANGE, pointBorderWidth: 0, borderColor: ORANGE,
          },
        ],
      },
      options: baseOptions(-0.5, 11.5),
      plugins: [decoPlugin({
        yTicks: [0, 2, 4, 6, 8, 10],
        yLabel: "MWR Phy Iter DQ Flag",
        yLabelX: 254,
        legend: [],
        legendX: [0, 0, 0],
        legendY: [],
      })],
    },
  ];
}

export default function App() {
  const canvases = useRef<(HTMLCanvasElement | null)[]>([]);

  useEffect(() => {
    const configs = buildConfigs();
    const charts = configs.map((cfg, i) => new Chart(canvases.current[i] as HTMLCanvasElement, cfg as any));
    return () => charts.forEach((c) => c.destroy());
  }, []);

  return (
    <div style={{ position: "absolute", left: 0, top: 0, width: W, height: 6000, background: "#fff" }}>
      {PANEL_TOPS.map((t, i) => (
        <canvas
          key={i}
          ref={(el) => {
            canvases.current[i] = el;
          }}
          width={W}
          height={H}
          style={{ position: "absolute", left: 0, top: t - PAD.top, width: W, height: H }}
        />
      ))}
    </div>
  );
}
